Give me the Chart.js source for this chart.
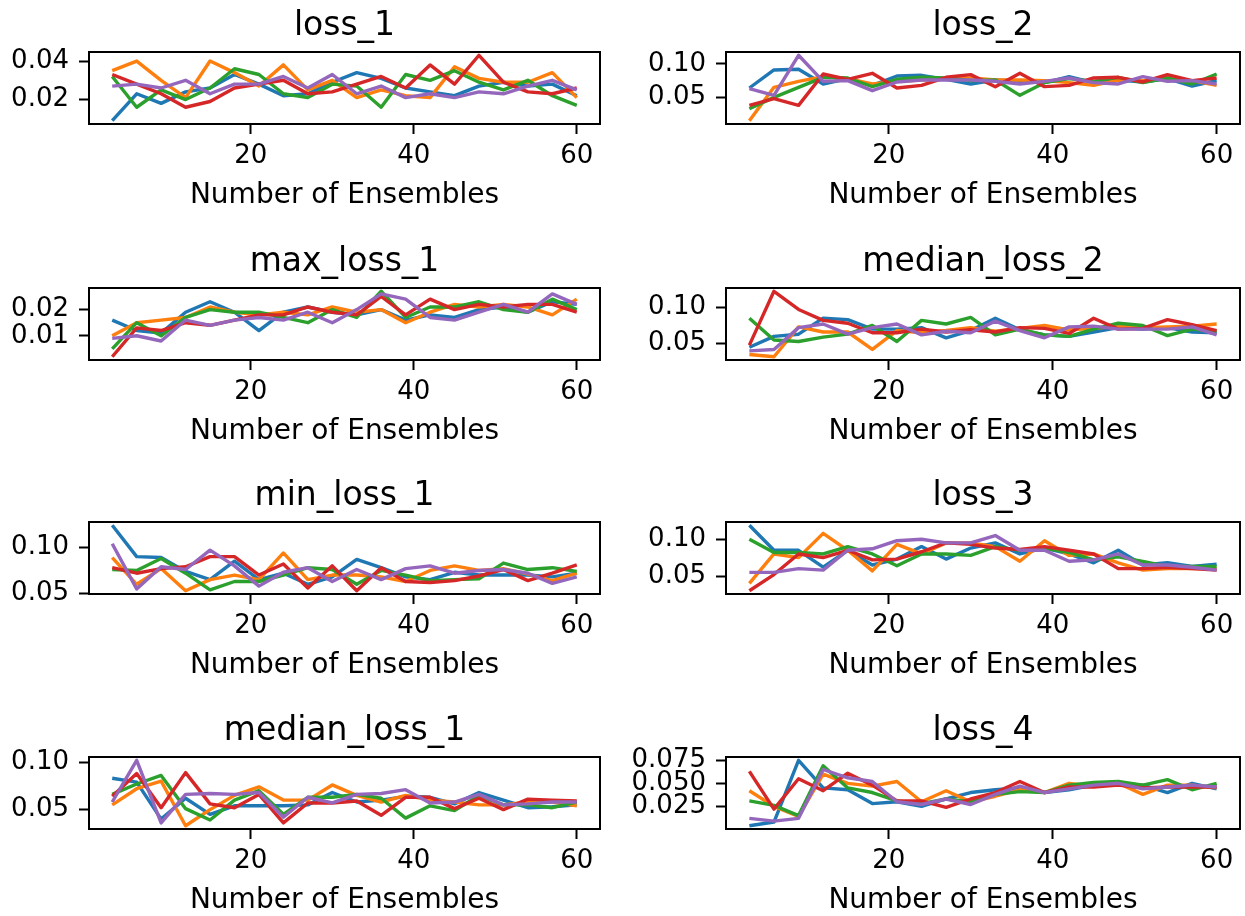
<!DOCTYPE html>
<html><head><meta charset="utf-8">
<script src="https://cdn.jsdelivr.net/npm/chart.js@4.4.0/dist/chart.umd.min.js"></script>
<style>
html,body{margin:0;padding:0;background:#fff;overflow:hidden;width:1245px;height:916px;}
#wrap{position:relative;width:1245px;height:916px;overflow:hidden;background:#fff;}
canvas{position:absolute;}
</style></head><body><div id="wrap"></div>
<script>
// ---------------- data ----------------
const ensembles = [3,6,9,12,15,18,21,24,27,30,33,36,39,42,45,48,51,54,57,60];
const seriesColors = ['#1f77b4','#ff7f0e','#2ca02c','#d62728','#9467bd'];
const xTicks = [20, 40, 60];
const xLabel = 'Number of Ensembles';

const loss_1 = [
  [0.009,0.023,0.018,0.024,0.026,0.033,0.028,0.022,0.023,0.029,0.034,0.031,0.026,0.024,0.022,0.027,0.029,0.027,0.028,0.022],
  [0.035,0.040,0.030,0.021,0.040,0.034,0.027,0.038,0.025,0.030,0.021,0.025,0.022,0.021,0.037,0.031,0.029,0.029,0.034,0.021],
  [0.032,0.016,0.025,0.020,0.026,0.036,0.033,0.023,0.021,0.028,0.027,0.016,0.033,0.030,0.035,0.029,0.025,0.030,0.022,0.017],
  [0.033,0.028,0.023,0.016,0.019,0.026,0.028,0.030,0.023,0.024,0.028,0.032,0.026,0.038,0.028,0.043,0.029,0.024,0.023,0.026],
  [0.027,0.028,0.026,0.030,0.023,0.028,0.028,0.032,0.026,0.033,0.023,0.027,0.021,0.023,0.021,0.024,0.023,0.027,0.030,0.025]
];
const loss_2 = [
  [0.064,0.091,0.092,0.070,0.078,0.068,0.082,0.083,0.077,0.070,0.076,0.074,0.072,0.081,0.072,0.076,0.073,0.078,0.067,0.075],
  [0.015,0.065,0.074,0.081,0.078,0.070,0.074,0.076,0.078,0.079,0.076,0.076,0.075,0.072,0.068,0.076,0.075,0.080,0.075,0.068],
  [0.033,0.050,0.065,0.080,0.079,0.066,0.077,0.080,0.079,0.075,0.076,0.053,0.072,0.078,0.074,0.080,0.072,0.079,0.070,0.085],
  [0.038,0.048,0.038,0.085,0.077,0.086,0.064,0.068,0.080,0.084,0.066,0.086,0.066,0.068,0.079,0.080,0.073,0.084,0.075,0.079],
  [0.063,0.053,0.113,0.074,0.075,0.060,0.073,0.076,0.076,0.076,0.074,0.070,0.074,0.079,0.072,0.070,0.081,0.074,0.075,0.070]
];
const max_loss_1 = [
  [0.016,0.012,0.011,0.019,0.023,0.019,0.012,0.019,0.021,0.019,0.018,0.020,0.016,0.018,0.017,0.020,0.021,0.019,0.023,0.022],
  [0.010,0.015,0.016,0.017,0.021,0.019,0.018,0.019,0.018,0.021,0.019,0.020,0.015,0.019,0.022,0.021,0.022,0.021,0.018,0.024],
  [0.005,0.015,0.010,0.017,0.020,0.019,0.019,0.017,0.015,0.020,0.017,0.027,0.017,0.021,0.021,0.023,0.020,0.019,0.024,0.020],
  [0.002,0.013,0.012,0.015,0.014,0.016,0.018,0.018,0.021,0.019,0.018,0.025,0.018,0.024,0.020,0.022,0.021,0.022,0.022,0.019],
  [0.009,0.010,0.008,0.016,0.014,0.016,0.017,0.016,0.019,0.015,0.020,0.026,0.024,0.017,0.016,0.019,0.022,0.019,0.026,0.022]
];
const median_loss_2 = [
  [0.045,0.060,0.063,0.085,0.083,0.070,0.070,0.072,0.058,0.068,0.085,0.069,0.062,0.060,0.066,0.072,0.070,0.072,0.066,0.065],
  [0.035,0.032,0.073,0.066,0.066,0.042,0.068,0.065,0.068,0.072,0.067,0.071,0.075,0.069,0.071,0.074,0.072,0.073,0.074,0.077],
  [0.085,0.055,0.053,0.059,0.063,0.075,0.053,0.082,0.077,0.086,0.062,0.070,0.062,0.060,0.070,0.078,0.075,0.061,0.070,0.066],
  [0.048,0.122,0.097,0.082,0.078,0.065,0.065,0.070,0.066,0.069,0.066,0.072,0.071,0.064,0.085,0.070,0.071,0.083,0.076,0.068],
  [0.040,0.042,0.072,0.077,0.063,0.072,0.077,0.062,0.067,0.065,0.081,0.068,0.058,0.073,0.074,0.070,0.070,0.070,0.073,0.062]
];
const min_loss_1 = [
  [0.124,0.090,0.089,0.074,0.065,0.085,0.065,0.072,0.060,0.068,0.087,0.078,0.068,0.065,0.073,0.070,0.070,0.070,0.068,0.072],
  [0.089,0.060,0.077,0.053,0.065,0.070,0.065,0.094,0.065,0.070,0.070,0.068,0.063,0.075,0.080,0.075,0.077,0.071,0.064,0.072],
  [0.076,0.075,0.088,0.072,0.054,0.063,0.063,0.070,0.078,0.076,0.060,0.075,0.070,0.064,0.065,0.066,0.083,0.076,0.078,0.074],
  [0.078,0.072,0.077,0.079,0.090,0.090,0.070,0.082,0.056,0.080,0.053,0.078,0.063,0.062,0.064,0.069,0.076,0.064,0.072,0.081],
  [0.104,0.055,0.079,0.076,0.097,0.080,0.058,0.073,0.078,0.063,0.076,0.065,0.077,0.080,0.072,0.075,0.076,0.072,0.061,0.068]
];
const loss_3 = [
  [0.119,0.085,0.085,0.062,0.085,0.065,0.073,0.090,0.073,0.088,0.095,0.080,0.088,0.080,0.068,0.085,0.065,0.068,0.063,0.066],
  [0.040,0.080,0.075,0.108,0.085,0.057,0.093,0.080,0.095,0.095,0.090,0.070,0.098,0.078,0.080,0.068,0.058,0.060,0.060,0.060],
  [0.100,0.082,0.082,0.080,0.090,0.080,0.064,0.080,0.080,0.078,0.090,0.085,0.088,0.082,0.072,0.076,0.070,0.063,0.063,0.063],
  [0.030,0.052,0.080,0.075,0.085,0.072,0.073,0.083,0.095,0.093,0.088,0.086,0.090,0.085,0.080,0.060,0.060,0.062,0.060,0.058],
  [0.055,0.055,0.060,0.058,0.085,0.087,0.098,0.100,0.095,0.095,0.105,0.085,0.085,0.070,0.072,0.080,0.065,0.065,0.062,0.058]
];
const median_loss_1 = [
  [0.083,0.079,0.040,0.062,0.045,0.054,0.054,0.054,0.055,0.068,0.058,0.060,0.064,0.063,0.056,0.068,0.060,0.052,0.053,0.055],
  [0.055,0.072,0.080,0.033,0.050,0.065,0.074,0.060,0.060,0.076,0.065,0.058,0.065,0.060,0.058,0.055,0.055,0.058,0.058,0.054],
  [0.066,0.077,0.086,0.051,0.039,0.060,0.070,0.045,0.063,0.063,0.066,0.062,0.041,0.054,0.049,0.065,0.055,0.055,0.052,0.058],
  [0.064,0.088,0.052,0.089,0.056,0.052,0.066,0.036,0.057,0.057,0.059,0.044,0.063,0.063,0.051,0.062,0.050,0.061,0.060,0.059],
  [0.058,0.102,0.036,0.066,0.067,0.066,0.068,0.042,0.063,0.057,0.066,0.067,0.071,0.057,0.058,0.066,0.055,0.056,0.058,0.058]
];
const loss_4 = [
  [0.004,0.008,0.075,0.045,0.043,0.028,0.030,0.025,0.033,0.040,0.043,0.045,0.040,0.043,0.048,0.050,0.048,0.040,0.050,0.044],
  [0.042,0.025,0.014,0.060,0.050,0.047,0.052,0.030,0.042,0.030,0.036,0.043,0.040,0.050,0.047,0.050,0.038,0.048,0.048,0.045],
  [0.031,0.026,0.015,0.069,0.045,0.040,0.031,0.028,0.033,0.030,0.038,0.041,0.040,0.048,0.051,0.052,0.048,0.054,0.043,0.050],
  [0.063,0.022,0.055,0.042,0.061,0.048,0.031,0.031,0.024,0.033,0.040,0.052,0.040,0.046,0.046,0.048,0.045,0.046,0.046,0.046],
  [0.012,0.009,0.012,0.065,0.056,0.052,0.030,0.027,0.033,0.027,0.038,0.047,0.040,0.044,0.048,0.050,0.044,0.046,0.048,0.046]
];

const yTicks_loss_1 = [0.02, 0.04];          const yLabels_loss_1 = ['0.02','0.04'];
const yTicks_loss_2 = [0.05, 0.10];          const yLabels_loss_2 = ['0.05','0.10'];
const yTicks_max_loss_1 = [0.01, 0.02];      const yLabels_max_loss_1 = ['0.01','0.02'];
const yTicks_median_loss_2 = [0.05, 0.10];   const yLabels_median_loss_2 = ['0.05','0.10'];
const yTicks_min_loss_1 = [0.05, 0.10];      const yLabels_min_loss_1 = ['0.05','0.10'];
const yTicks_loss_3 = [0.05, 0.10];          const yLabels_loss_3 = ['0.05','0.10'];
const yTicks_median_loss_1 = [0.05, 0.10];   const yLabels_median_loss_1 = ['0.05','0.10'];
const yTicks_loss_4 = [0.025, 0.050, 0.075]; const yLabels_loss_4 = ['0.025','0.050','0.075'];

const panels = [
  {title:'loss_1', data:loss_1, ticks:yTicks_loss_1, labels:yLabels_loss_1, col:0, row:0},
  {title:'loss_2', data:loss_2, ticks:yTicks_loss_2, labels:yLabels_loss_2, col:1, row:0},
  {title:'max_loss_1', data:max_loss_1, ticks:yTicks_max_loss_1, labels:yLabels_max_loss_1, col:0, row:1},
  {title:'median_loss_2', data:median_loss_2, ticks:yTicks_median_loss_2, labels:yLabels_median_loss_2, col:1, row:1},
  {title:'min_loss_1', data:min_loss_1, ticks:yTicks_min_loss_1, labels:yLabels_min_loss_1, col:0, row:2},
  {title:'loss_3', data:loss_3, ticks:yTicks_loss_3, labels:yLabels_loss_3, col:1, row:2},
  {title:'median_loss_1', data:median_loss_1, ticks:yTicks_median_loss_1, labels:yLabels_median_loss_1, col:0, row:3},
  {title:'loss_4', data:loss_4, ticks:yTicks_loss_4, labels:yLabels_loss_4, col:1, row:3}
];

// ---------------- layout ----------------
const FONT = 'DejaVu Sans';
const colLayout = [
  {left:0,   width:620, yWidth:89,  padRight:20},
  {left:620, width:625, yWidth:106, padRight:5}
];
const rowTops = [0, 236, 470, 705];
const CANVAS_H = 216;

const frame = {
  id:'frame',
  afterDatasetsDraw(chart){
    const a = chart.chartArea, c = chart.ctx;
    c.save(); c.strokeStyle = '#000'; c.lineWidth = 2;
    c.strokeRect(a.left, a.top, a.right - a.left, a.bottom - a.top);
    c.restore();
  }
};

const wrap = document.getElementById('wrap');
panels.forEach(p => {
  const cl = colLayout[p.col];
  const cv = document.createElement('canvas');
  cv.width = cl.width; cv.height = CANVAS_H;
  cv.style.left = cl.left + 'px'; cv.style.top = rowTops[p.row] + 'px';
  cv.style.width = cl.width + 'px'; cv.style.height = CANVAS_H + 'px';
  wrap.appendChild(cv);

  const all = p.data.flat();
  const dmin = Math.min(...all), dmax = Math.max(...all);
  const m = (dmax - dmin) * 0.05;
  const xr = ensembles[ensembles.length-1] - ensembles[0];

  new Chart(cv.getContext('2d'), {
    type:'line',
    data:{
      datasets: p.data.map((vals, i) => ({
        data: vals.map((v, j) => ({x: ensembles[j], y: v})),
        order: p.data.length - i,   // later series drawn on top, like matplotlib
        borderColor: seriesColors[i], backgroundColor: seriesColors[i],
        borderWidth: 3.4, pointRadius: 0, fill: false, tension: 0,
        borderJoinStyle: 'round', borderCapStyle: 'butt'
      }))
    },
    options:{
      responsive:false, animation:false, devicePixelRatio:1,
      events: [],
      layout:{autoPadding:false, padding:{top:7, bottom:3, left:0, right:cl.padRight}},
      plugins:{
        legend:{display:false}, tooltip:{enabled:false},
        title:{display:true, fullSize:false, text:p.title, color:'#000',
          font:{family:FONT, size:33, weight:'normal', lineHeight:1.2},
          padding:{top:0, bottom:5.4}}
      },
      scales:{
        x:{
          type:'linear',
          min: ensembles[0] - 0.05*xr, max: ensembles[ensembles.length-1] + 0.05*xr,
          afterBuildTicks: s => { s.ticks = xTicks.map(v => ({value:v})); },
          afterFit: s => { s.height = 89; },
          ticks:{color:'#000', font:{family:FONT, size:26, lineHeight:1}, padding:9, maxRotation:0, autoSkip:false,
                 callback: v => String(v)},
          grid:{display:true, drawOnChartArea:false, drawTicks:true, tickLength:10, tickWidth:2, tickColor:'#000'},
          border:{display:false},
          title:{display:true, text:xLabel, color:'#000', font:{family:FONT, size:28, lineHeight:1.2}, padding:0}
        },
        y:{
          type:'linear', min: dmin - m, max: dmax + m,
          afterBuildTicks: s => { s.ticks = p.ticks.map(v => ({value:v})); },
          afterFit: s => { s.width = cl.yWidth; },
          ticks:{color:'#000', font:{family:FONT, size:26, lineHeight:1}, padding:10, autoSkip:false,
                 callback: (v, i) => p.labels[i]},
          grid:{display:true, drawOnChartArea:false, drawTicks:true, tickLength:10, tickWidth:2, tickColor:'#000'},
          border:{display:false}
        }
      }
    },
    plugins:[frame]
  });
});
</script></body></html>
